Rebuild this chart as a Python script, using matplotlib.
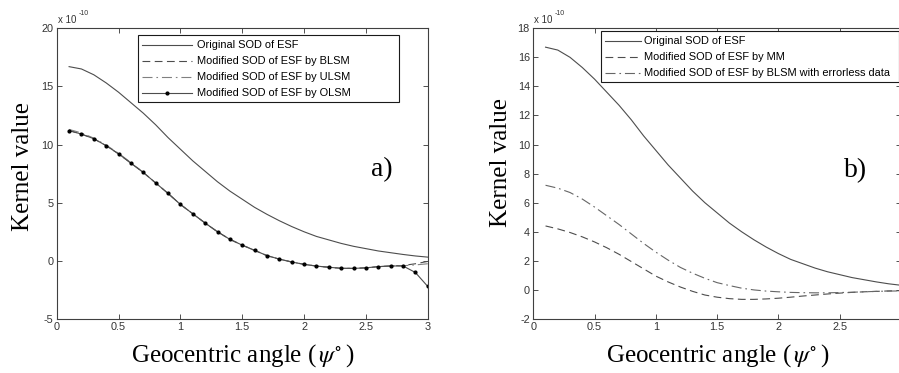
import matplotlib
matplotlib.use("Agg")
import matplotlib.pyplot as plt
from matplotlib.patches import Rectangle

# Geocentric angle grid (degrees)
psi = [0.1, 0.2, 0.3, 0.4, 0.5, 0.6, 0.7, 0.8, 0.9, 1.0,
       1.1, 1.2, 1.3, 1.4, 1.5, 1.6, 1.7, 1.8, 1.9, 2.0,
       2.1, 2.2, 2.3, 2.4, 2.5, 2.6, 2.7, 2.8, 2.9, 3.0]

# kernel values in units of 1e-10
sod_original = [16.7, 16.5, 16.0, 15.3, 14.5, 13.6, 12.7, 11.7, 10.6, 9.6,
                8.6, 7.7, 6.8, 6.0, 5.3, 4.6, 4.0, 3.45, 2.95, 2.5,
                2.1, 1.8, 1.5, 1.25, 1.05, 0.85, 0.7, 0.55, 0.42, 0.32]
sod_olsm = [11.2, 10.9, 10.5, 9.9, 9.2, 8.4, 7.6, 6.7, 5.8, 4.85,
            4.05, 3.25, 2.5, 1.85, 1.35, 0.9, 0.45, 0.15, -0.1, -0.3,
            -0.45, -0.55, -0.64, -0.65, -0.6, -0.5, -0.44, -0.44, -1.0, -2.2]
sod_blsm = [11.2, 10.9, 10.5, 9.9, 9.2, 8.4, 7.6, 6.7, 5.8, 4.85,
            4.05, 3.25, 2.5, 1.85, 1.35, 0.9, 0.45, 0.15, -0.1, -0.3,
            -0.45, -0.55, -0.64, -0.65, -0.6, -0.5, -0.44, -0.4, -0.25, -0.05]
sod_ulsm = [11.3, 11.0, 10.55, 9.95, 9.25, 8.45, 7.6, 6.7, 5.8, 4.85,
            4.05, 3.25, 2.5, 1.85, 1.35, 0.9, 0.45, 0.15, -0.1, -0.3,
            -0.45, -0.55, -0.64, -0.65, -0.6, -0.5, -0.44, -0.42, -0.35, -0.25]
sod_mm = [4.4, 4.2, 3.95, 3.65, 3.3, 2.9, 2.45, 1.95, 1.45, 0.95,
          0.55, 0.2, -0.1, -0.35, -0.5, -0.6, -0.65, -0.65, -0.62, -0.57,
          -0.5, -0.42, -0.35, -0.28, -0.22, -0.17, -0.13, -0.1, -0.07, -0.05]
sod_blsm_errorless = [7.2, 7.0, 6.7, 6.25, 5.7, 5.1, 4.5, 3.85, 3.2, 2.6,
                      2.05, 1.55, 1.15, 0.8, 0.5, 0.3, 0.12, 0.0, -0.08, -0.13,
                      -0.17, -0.19, -0.2, -0.2, -0.18, -0.16, -0.13, -0.1, -0.08, -0.07]

xticks_a = [0, 0.5, 1, 1.5, 2, 2.5, 3]
xticks_b = [0, 0.5, 1, 1.5, 2, 2.5]
yticks_a = [-5, 0, 5, 10, 15, 20]
yticks_b = [-2, 0, 2, 4, 6, 8, 10, 12, 14, 16, 18]

plt.rcParams['font.family'] = ['Liberation Sans', 'DejaVu Sans']
plt.rcParams['mathtext.fontset'] = 'stix'
plt.rcParams['axes.unicode_minus'] = False

fig = plt.figure(figsize=(8.99, 3.73), dpi=100)
W, H = 899.0, 373.0
ax1 = fig.add_axes([0.0631, 0.1448, 0.4127, 0.7794])
ax2 = fig.add_axes([0.5932, 0.1448, 0.409, 0.7794])

line_col = '0.3'
lw = 0.8
dash = (0, (7, 4))
dashdot = (0, (9, 3.5, 1.5, 3.5))

# panel a
ax1.plot(psi, sod_original, '-', color=line_col, lw=lw, label='Original SOD of ESF')
ax1.plot(psi, sod_blsm, linestyle=dash, color=line_col, lw=lw,
         label='Modified SOD of ESF by BLSM')
ax1.plot(psi, sod_ulsm, linestyle=dashdot, color='0.5', lw=lw,
         label='Modified SOD of ESF by ULSM')
ax1.plot(psi, sod_olsm, '-', color=line_col, lw=lw, marker='.', markersize=4,
         markerfacecolor='k', markeredgecolor='k', label='Modified SOD of ESF by OLSM')
ax1.set_xlim(0, 3)
ax1.set_ylim(-5, 20)
ax1.set_xticks(xticks_a)
ax1.set_xticklabels([f'{t:g}' for t in xticks_a])
ax1.set_yticks(yticks_a)
ax1.text(0.906, 0.514, 'a)', transform=ax1.transAxes, fontsize=20,
         family='Liberation Serif', ha='right', va='center')

# panel b (right edge runs off the figure)
ax2.plot(psi, sod_original, '-', color=line_col, lw=lw, label='Original SOD of ESF')
ax2.plot(psi, sod_mm, linestyle=dash, color=line_col, lw=lw,
         label='Modified SOD of ESF by MM')
ax2.plot(psi, sod_blsm_errorless, linestyle=dashdot, color='0.4', lw=lw,
         label='Modified SOD of ESF by BLSM with errorless data')
ax2.set_xlim(0, 3)
ax2.set_ylim(-2, 18)
ax2.set_xticks(xticks_b)
ax2.set_xticklabels([f'{t:g}' for t in xticks_b])
ax2.set_yticks(yticks_b)
ax2.text(0.907, 0.509, 'b)', transform=ax2.transAxes, fontsize=20,
         family='Liberation Serif', ha='right', va='center')

for ax, ylab_pos in ((ax1, (-0.062, 0.525)), (ax2, (-0.058, 0.538))):
    ax.tick_params(direction='in', length=3.5, width=0.6, labelsize=7.8,
                   top=True, right=True, colors='0.2', pad=2.5)
    for s in ax.spines.values():
        s.set_linewidth(0.8)
        s.set_color('0.25')
    ax.set_xlabel(r'Geocentric angle ($\,\psi^{\circ}\,$)', fontsize=18,
                  family='Liberation Serif', labelpad=7)
    ax.set_ylabel('Kernel value', fontsize=18, family='Liberation Serif')
    ax.yaxis.set_label_coords(*ylab_pos)
    ax.text(0.003, 1.012, 'x 10', transform=ax.transAxes, fontsize=7,
            color='0.2', va='bottom', ha='left')
    ax.text(0.058, 1.04, '-10', transform=ax.transAxes, fontsize=5,
            color='0.2', va='bottom', ha='left')

leg_kw = dict(loc='upper left', fontsize=7.9, frameon=False, borderaxespad=0,
              labelspacing=0.55, bbox_transform=fig.transFigure)
ax1.legend(bbox_to_anchor=(138 / W, 1 - 36 / H), handlelength=4.5,
           handletextpad=0.45, borderpad=0.4, **leg_kw)
ax2.legend(bbox_to_anchor=(601 / W, 1 - 32 / H), handlelength=3.2,
           handletextpad=0.3, borderpad=0.4, **leg_kw)

# legend boxes, drawn under the legend entries but over the curves
for ax, (x0, y0, x1, y1) in ((ax1, (138, 35, 399, 101.7)),
                             (ax2, (600.7, 30.7, 898.5, 81.7))):
    ax.add_patch(Rectangle((x0 / W, 1 - y1 / H), (x1 - x0) / W, (y1 - y0) / H,
                           transform=fig.transFigure, facecolor='white',
                           edgecolor='0.1', linewidth=0.8, zorder=4,
                           clip_on=False))

fig.savefig('out.png', dpi=100)
